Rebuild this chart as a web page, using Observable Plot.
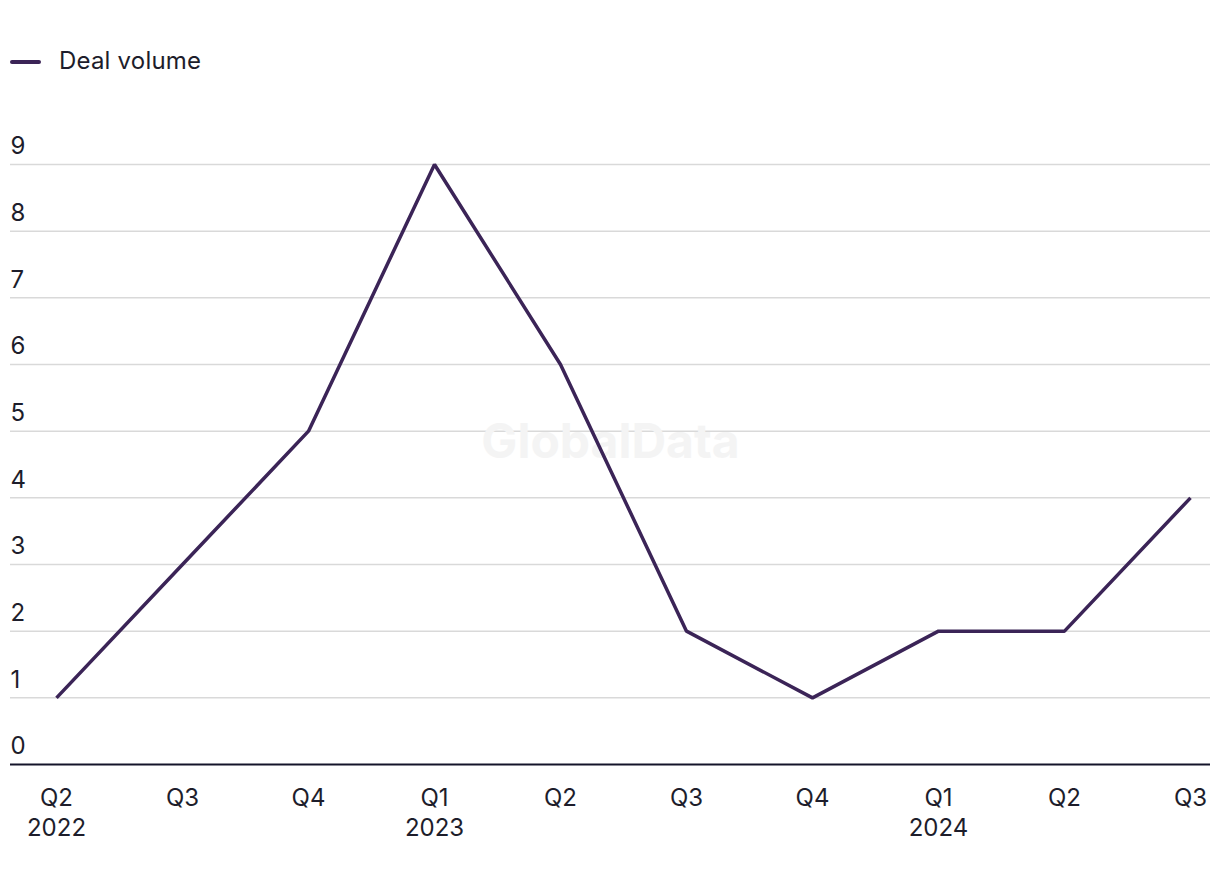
<!DOCTYPE html>
<html>
<head>
<meta charset="utf-8">
<script src="https://cdn.jsdelivr.net/npm/d3@7"></script>
<script src="https://cdn.jsdelivr.net/npm/@observablehq/plot@0.6"></script>
<style>
  html, body { margin: 0; padding: 0; background: #fff; }
  body { width: 1220px; height: 884px; overflow: hidden; font-family: Inter, "Noto Sans", sans-serif; }
  #legend { height: 124px; position: relative; }
  #legend .sw { position: absolute; left: 10px; top: 60px; width: 31px; height: 4px; background: #3b2457; border-radius: 2px; }
  #legend .lb { position: absolute; left: 59px; top: 47px; font-size: 24px; color: #1d1d2b; line-height: 28px; letter-spacing: 0.2px; }
  svg { display: block; }
</style>
</head>
<body>
<div id="legend"><span class="sw"></span><span class="lb">Deal volume</span></div>
<div id="chart"></div>
<script>
const quarters = ["Q2\n2022", "Q3", "Q4", "Q1\n2023", "Q2", "Q3", "Q4", "Q1\n2024", "Q2", "Q3"];
const dealVolume = [1, 3, 5, 9, 6, 2, 1, 2, 2, 4];
const yTicks = [0, 1, 2, 3, 4, 5, 6, 7, 8, 9];

const keys = quarters.map((q, i) => i);
const data = keys.map(i => ({k: i, label: quarters[i], v: dealVolume[i]}));

const plot = Plot.plot({
  width: 1220,
  height: 760,
  marginLeft: 10,
  marginRight: 10,
  marginTop: 40,
  marginBottom: 120,
  style: {fontFamily: "Inter, 'Noto Sans', sans-serif", fontSize: "24px", color: "#1d1d2b", background: "transparent"},
  x: {type: "point", domain: keys, range: [55, 1190], padding: 0, axis: null},
  y: {domain: [0, 9], axis: null},
  marks: [
    Plot.ruleY(yTicks.filter(d => d > 0), {stroke: "#d9d9d9", strokeWidth: 1.5}),
    Plot.text(["GlobalData"], {frameAnchor: "middle", dy: -22, fontSize: 48, fontWeight: "bold", fill: "#f4f4f4"}),
    Plot.text(yTicks, {y: d => d, text: d => String(d), frameAnchor: "left", textAnchor: "start", dy: -18, fontSize: 24, fill: "#1d1d2b"}),
    Plot.ruleY([0], {stroke: "#14142a", strokeWidth: 2}),
    Plot.line(data, {x: "k", y: "v", stroke: "#3b2457", strokeWidth: 3.5, strokeLinejoin: "miter", strokeLinecap: "butt"}),
    Plot.text(data, {x: "k", y: 0, text: "label", lineAnchor: "top", dy: 20, lineHeight: 1.25, fontSize: 24, fill: "#1d1d2b"})
  ]
});
document.getElementById("chart").appendChild(plot);
</script>
</body>
</html>
